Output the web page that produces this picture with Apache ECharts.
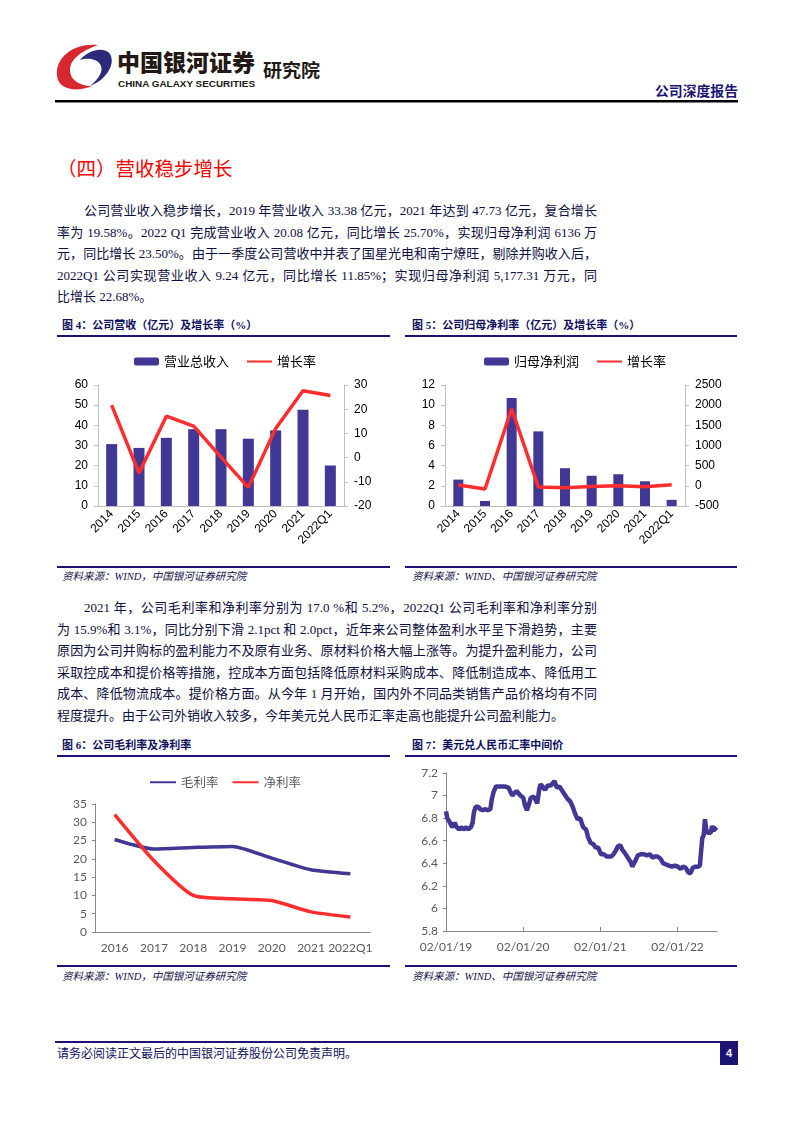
<!DOCTYPE html>
<html><head><meta charset="utf-8">
<script src="https://cdn.jsdelivr.net/npm/echarts/dist/echarts.min.js"></script>
<style>
html,body{margin:0;padding:0;background:#fff;}
body{width:793px;height:1122px;position:relative;overflow:hidden;}
.abs{position:absolute;}
.txt{font-family:"Liberation Serif","Noto Sans CJK SC",serif;font-size:13px;color:#0e0e40;line-height:20px;height:20px;white-space:normal;}
.jl{text-align:justify;text-align-last:justify;}
.ft{font-family:"Liberation Serif","Noto Sans CJK SC",serif;font-weight:700;font-size:11px;color:#101060;line-height:14px;white-space:nowrap;}
.src{font-family:"Liberation Serif","Noto Sans CJK SC",serif;font-style:italic;font-size:10.5px;color:#101048;line-height:14px;white-space:nowrap;}
.rule{background:#1c1475;height:2px;}
.chart{position:absolute;}
</style></head>
<body>
<svg class="abs" style="left:0;top:0" width="793" height="110">
  <path d="M98 45 C72 42 52 60 58 80 C62 90 78 92 92 86 C80 86 70 80 70 70 C70 58 84 50 98 45 Z" fill="#d7282f"/>
  <path d="M80 60 C88 50 104 46 110 54 C116 64 106 80 90 86 C100 78 104 70 100 64 C96 58 86 58 80 60 Z" fill="#2e2a7a"/>
  <text x="117" y="71" font-family="Noto Sans CJK SC" font-weight="900" font-size="23" textLength="138" lengthAdjust="spacingAndGlyphs" fill="#231815">中国银河证券</text>
  <text x="118" y="87" font-family="Liberation Sans" font-weight="700" font-size="9.5" textLength="137" lengthAdjust="spacingAndGlyphs" fill="#231815">CHINA GALAXY SECURITIES</text>
  <text x="263" y="76.5" font-family="Noto Sans CJK SC" font-weight="700" font-size="18" textLength="57" lengthAdjust="spacingAndGlyphs" fill="#231815">研究院</text>
  <text x="655" y="96" font-family="Noto Sans CJK SC" font-weight="700" font-size="13.5" textLength="83" lengthAdjust="spacingAndGlyphs" fill="#1c1475">公司深度报告</text>
  <rect x="55" y="100" width="683" height="2.5" fill="#000"/>
</svg>

<div class="abs" style="left:57px;top:155px;font-family:'Noto Sans CJK SC';font-size:19.5px;color:#ff0000;line-height:26px;white-space:nowrap;">（四）营收稳步增长</div>

<div class="abs txt jl" style="left:84px;top:201px;width:513px;">公司营业收入稳步增长，2019 年营业收入 33.38 亿元，2021 年达到 47.73 亿元，复合增长</div>
<div class="abs txt jl" style="left:57px;top:222.5px;width:540px;">率为 19.58%。2022 Q1 完成营业收入 20.08 亿元，同比增长 25.70%，实现归母净利润 6136 万</div>
<div class="abs txt jl" style="left:57px;top:244px;width:540px;">元，同比增长 23.50%。由于一季度公司营收中并表了国星光电和南宁燎旺，剔除并购收入后，</div>
<div class="abs txt jl" style="left:57px;top:265.5px;width:540px;">2022Q1 公司实现营业收入 9.24 亿元，同比增长 11.85%；实现归母净利润 5,177.31 万元，同</div>
<div class="abs txt" style="left:57px;top:287px;width:540px;">比增长 22.68%。</div>

<div class="abs ft" style="left:62px;top:317.5px;">图 4：公司营收（亿元）及增长率（%）</div>
<div class="abs rule" style="left:57px;top:335px;width:333px;"></div>
<div class="abs ft" style="left:412px;top:317.5px;">图 5：公司归母净利率（亿元）及增长率（%）</div>
<div class="abs rule" style="left:405px;top:335px;width:332px;"></div>

<div id="c4" class="chart" style="left:55px;top:340px;width:340px;height:225px;"></div>
<div id="c5" class="chart" style="left:405px;top:340px;width:340px;height:225px;"></div>

<div class="abs rule" style="left:57px;top:566px;width:333px;"></div>
<div class="abs src" style="left:62px;top:570px;">资料来源：WIND，中国银河证券研究院</div>
<div class="abs rule" style="left:405px;top:566px;width:332px;"></div>
<div class="abs src" style="left:412px;top:570px;">资料来源：WIND、中国银河证券研究院</div>

<div class="abs txt jl" style="left:84px;top:598px;width:513px;">2021 年，公司毛利率和净利率分别为 17.0 %和 5.2%，2022Q1 公司毛利率和净利率分别</div>
<div class="abs txt jl" style="left:57px;top:619.5px;width:540px;">为 15.9%和 3.1%，同比分别下滑 2.1pct 和 2.0pct，近年来公司整体盈利水平呈下滑趋势，主要</div>
<div class="abs txt jl" style="left:57px;top:641px;width:540px;">原因为公司并购标的盈利能力不及原有业务、原材料价格大幅上涨等。为提升盈利能力，公司</div>
<div class="abs txt jl" style="left:57px;top:662.5px;width:540px;">采取控成本和提价格等措施，控成本方面包括降低原材料采购成本、降低制造成本、降低用工</div>
<div class="abs txt jl" style="left:57px;top:684px;width:540px;">成本、降低物流成本。提价格方面。从今年 1 月开始，国内外不同品类销售产品价格均有不同</div>
<div class="abs txt" style="left:57px;top:705.5px;width:540px;">程度提升。由于公司外销收入较多，今年美元兑人民币汇率走高也能提升公司盈利能力。</div>

<div class="abs ft" style="left:62px;top:738px;">图 6：公司毛利率及净利率</div>
<div class="abs rule" style="left:57px;top:755px;width:333px;"></div>
<div class="abs ft" style="left:412px;top:738px;">图 7：美元兑人民币汇率中间价</div>
<div class="abs rule" style="left:405px;top:755px;width:332px;"></div>

<div id="c6" class="chart" style="left:55px;top:760px;width:340px;height:205px;"></div>
<div id="c7" class="chart" style="left:405px;top:760px;width:340px;height:205px;"></div>

<div class="abs rule" style="left:57px;top:965px;width:333px;"></div>
<div class="abs src" style="left:62px;top:970px;">资料来源：WIND，中国银河证券研究院</div>
<div class="abs rule" style="left:405px;top:965px;width:332px;"></div>
<div class="abs src" style="left:412px;top:970px;">资料来源：WIND、中国银河证券研究院</div>

<div class="abs" style="left:55px;top:1041px;width:683px;height:2px;background:#1c1475;"></div>
<div class="abs" style="left:57px;top:1045px;font-family:'Noto Sans CJK SC';font-size:12px;line-height:16px;color:#101060;white-space:nowrap;">请务必阅读正文最后的中国银河证券股份公司免责声明。</div>
<div class="abs" style="left:720px;top:1042px;width:18px;height:23px;background:#1c1475;color:#fff;font-family:'Liberation Sans';font-weight:700;font-size:11px;line-height:23px;text-align:center;">4</div>

<script>
// ---- Data ----
const years = ['2014','2015','2016','2017','2018','2019','2020','2021','2022Q1'];
const revenue = [30.7, 28.8, 33.8, 38.1, 38.1, 33.38, 37.5, 47.73, 20.08];
const revenueGrowth = [21.7, -6.4, 17.1, 13.0, 0.2, -12.3, 12.0, 27.6, 25.7];
const netProfit = [2.62, 0.50, 10.7, 7.4, 3.75, 3.0, 3.15, 2.45, 0.61];
const profitGrowth = [20, -80, 1912, -30, -45, -15, 5, -22, 24];

const marginYears = ['2016','2017','2018','2019','2020','2021','2022Q1'];
const grossMargin = [25.3, 22.7, 23.1, 23.4, 20.2, 17.0, 15.9];
const netMargin = [32.1, 19.5, 10.0, 9.1, 8.6, 5.5, 4.1];

const fxTickDates = ['2019-01-02','2020-01-02','2021-01-02','2022-01-02'];
const fxTickLabels = ['02/01/19','02/01/20','02/01/21','02/01/22'];
const fxDates = [
 '2019-01-02','2019-01-08','2019-01-15','2019-01-24','2019-02-01','2019-02-12','2019-02-22','2019-03-05','2019-03-15','2019-03-26',
 '2019-04-08','2019-04-18','2019-04-30','2019-05-08','2019-05-14','2019-05-22','2019-06-03','2019-06-13','2019-06-25','2019-07-08',
 '2019-07-18','2019-07-31','2019-08-07','2019-08-15','2019-08-26','2019-09-10','2019-09-25','2019-10-10','2019-10-25','2019-11-04',
 '2019-11-12','2019-11-20','2019-12-02','2019-12-10','2019-12-20','2020-01-03','2020-01-10','2020-01-20','2020-01-31','2020-02-07',
 '2020-02-14','2020-02-21','2020-03-02','2020-03-09','2020-03-18','2020-03-24','2020-04-03','2020-04-15','2020-04-28','2020-05-12',
 '2020-05-22','2020-05-29','2020-06-10','2020-06-22','2020-07-06','2020-07-20','2020-07-31','2020-08-12','2020-08-24','2020-09-04',
 '2020-09-16','2020-09-28','2020-10-12','2020-10-26','2020-11-05','2020-11-17','2020-11-30','2020-12-10','2020-12-22','2021-01-05',
 '2021-01-18','2021-02-01','2021-02-10','2021-02-22','2021-03-05','2021-03-15','2021-03-26','2021-04-06','2021-04-16','2021-04-28',
 '2021-05-12','2021-05-26','2021-06-02','2021-06-16','2021-06-28','2021-07-12','2021-07-27','2021-08-10','2021-08-24','2021-09-06',
 '2021-09-17','2021-09-29','2021-10-14','2021-10-26','2021-11-08','2021-11-22','2021-12-06','2021-12-20','2022-01-04','2022-01-17',
 '2022-01-28','2022-02-10','2022-02-22','2022-03-04','2022-03-15','2022-03-28','2022-04-08','2022-04-18','2022-04-22','2022-04-26',
 '2022-04-29','2022-05-06','2022-05-12','2022-05-18','2022-05-24','2022-05-31','2022-06-08','2022-06-15','2022-06-22','2022-06-28',
 '2022-07-06'
];
const fxValues = [
 6.86,6.80,6.78,6.77,6.72,6.76,6.72,6.70,6.72,6.70,
 6.72,6.70,6.72,6.76,6.85,6.90,6.90,6.88,6.87,6.88,
 6.87,6.88,6.97,7.03,7.08,7.08,7.08,7.08,7.07,7.03,
 7.00,7.02,7.04,7.03,7.00,6.98,6.92,6.87,6.93,6.98,
 6.99,6.99,6.96,6.93,7.05,7.10,7.08,7.05,7.09,7.09,
 7.11,7.13,7.07,7.08,7.04,7.00,6.97,6.95,6.90,6.84,
 6.79,6.80,6.72,6.70,6.63,6.58,6.57,6.54,6.54,6.48,
 6.48,6.46,6.45,6.46,6.48,6.51,6.55,6.56,6.52,6.49,
 6.45,6.41,6.37,6.42,6.47,6.48,6.48,6.47,6.48,6.45,
 6.46,6.46,6.44,6.40,6.39,6.38,6.37,6.38,6.37,6.35,
 6.37,6.36,6.32,6.31,6.36,6.37,6.37,6.38,6.47,6.55,
 6.62,6.65,6.79,6.70,6.67,6.67,6.67,6.73,6.69,6.70,
 6.72
];

// ---- Helpers ----
const BAR = '#403894', RED = '#ff2d2d';
const dayMs = 86400000;
const toDay = s => Math.round((Date.parse(s + 'T00:00:00Z') - Date.parse(fxTickDates[0] + 'T00:00:00Z')) / dayMs);
const plain = v => String(v);

function barLineOption(legendNames, bars, line, leftAx, rightAx, grid, barW) {
  const axisLbl = {fontSize: 12, color: '#000', fontFamily: 'Liberation Sans', margin: 10, formatter: plain};
  const axLine = {show: true, onZero: false, lineStyle: {color: '#bfbfbf', width: 1}};
  return {
    animation: false,
    legend: {top: 10, left: 'center', itemWidth: 25, itemHeight: 8, itemGap: 17,
      textStyle: {fontSize: 13, color: '#000', fontFamily: 'Noto Sans CJK SC'},
      data: [{name: legendNames[0]}, {name: legendNames[1], itemStyle: {opacity: 0}}]},
    grid: grid,
    xAxis: {type: 'category', data: years, axisLine: axLine, axisTick: {show: false},
      axisLabel: {rotate: 45, interval: 0, fontSize: 12, color: '#000', fontFamily: 'Liberation Sans', margin: 6}},
    yAxis: [
      Object.assign({type: 'value', position: 'left', axisLine: axLine, axisTick: {show: true, length: 4, lineStyle: {color: '#bfbfbf'}},
        splitLine: {show: false}, axisLabel: axisLbl}, leftAx),
      Object.assign({type: 'value', position: 'right', axisLine: axLine, axisTick: {show: true, length: 4, lineStyle: {color: '#bfbfbf'}},
        splitLine: {show: false}, axisLabel: axisLbl}, rightAx)
    ],
    series: [
      {name: legendNames[0], type: 'bar', data: bars, barWidth: barW, itemStyle: {color: BAR}},
      {name: legendNames[1], type: 'line', yAxisIndex: 1, data: line, symbol: 'none',
        lineStyle: {width: 3.5, color: RED}, itemStyle: {color: RED}}
    ]
  };
}

echarts.init(document.getElementById('c4'), null, {renderer: 'canvas'}).setOption(
  barLineOption(['营业总收入', '增长率'], revenue, revenueGrowth,
    {min: 0, max: 60, interval: 10}, {min: -20, max: 30, interval: 10},
    {left: 43, right: 51, top: 45, bottom: 59}, 11));

echarts.init(document.getElementById('c5'), null, {renderer: 'canvas'}).setOption(
  barLineOption(['归母净利润', '增长率'], netProfit, profitGrowth,
    {min: 0, max: 12, interval: 2}, {min: -500, max: 2500, interval: 500},
    {left: 40, right: 60, top: 45, bottom: 59}, 10));

const grayLbl = {fontSize: 12, color: '#595959', fontFamily: 'Lato'};
echarts.init(document.getElementById('c6')).setOption({
  animation: false,
  legend: {top: 11, left: 'center', itemWidth: 26, itemGap: 13,
    textStyle: {fontSize: 12.5, color: '#595959', fontFamily: 'Noto Sans CJK SC'},
    data: [{name: '毛利率', itemStyle: {opacity: 0}}, {name: '净利率', itemStyle: {opacity: 0}}]},
  grid: {left: 40, right: 25, top: 44, bottom: 33},
  xAxis: {type: 'category', data: marginYears,
    axisLine: {onZero: false, lineStyle: {color: '#868686'}}, axisTick: {show: false},
    axisLabel: Object.assign({margin: 10, interval: 0}, grayLbl)},
  yAxis: {type: 'value', min: 0, max: 35, interval: 5,
    axisLine: {show: true, lineStyle: {color: '#868686'}}, axisTick: {show: true, length: 3, lineStyle: {color: '#868686'}},
    splitLine: {show: false}, axisLabel: Object.assign({margin: 8}, grayLbl)},
  series: [
    {name: '毛利率', type: 'line', data: grossMargin, symbol: 'none', smooth: 0.2,
      lineStyle: {width: 3.5, color: BAR}, itemStyle: {color: BAR}},
    {name: '净利率', type: 'line', data: netMargin, symbol: 'none', smooth: 0.2,
      lineStyle: {width: 3.5, color: RED}, itemStyle: {color: RED}}
  ]
});

const tickDays = fxTickDates.map(toDay);
const fxDays = fxDates.map(toDay);
const fxMax = fxDays[fxDays.length - 1] + 2;
echarts.init(document.getElementById('c7')).setOption({
  animation: false,
  grid: {left: 41, right: 28, top: 13, bottom: 34},
  xAxis: {type: 'value', min: 0, max: fxMax,
    axisLine: {onZero: false, lineStyle: {color: '#868686'}},
    axisTick: {show: true, customValues: tickDays, inside: true, length: 4, lineStyle: {color: '#868686'}},
    axisLabel: Object.assign({customValues: tickDays, margin: 10,
      formatter: v => { const i = tickDays.indexOf(v); return i >= 0 ? fxTickLabels[i] : ''; }}, grayLbl),
    splitLine: {show: false}},
  yAxis: {type: 'value', min: 5.8, max: 7.2, interval: 0.2,
    axisLine: {show: true, lineStyle: {color: '#868686'}}, axisTick: {show: true, length: 3, lineStyle: {color: '#868686'}},
    splitLine: {show: false}, axisLabel: Object.assign({margin: 8}, grayLbl)},
  series: [{type: 'line', data: fxDays.map((d, i) => [d, fxValues[i]]), symbol: 'none',
    lineStyle: {width: 4.5, color: BAR}, itemStyle: {color: BAR}}]
});
</script>
</body></html>
